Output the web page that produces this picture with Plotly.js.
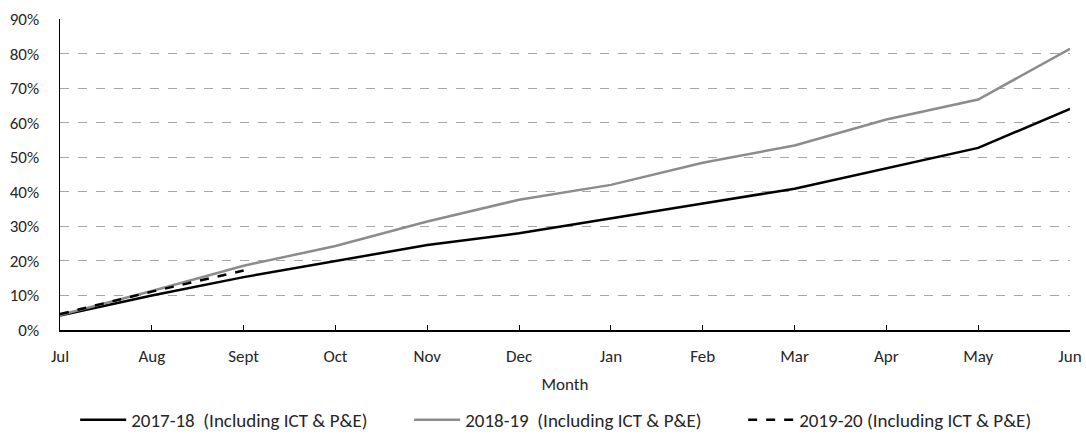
<!DOCTYPE html>
<html>
<head>
<meta charset="utf-8">
<script src="https://cdn.plot.ly/plotly-3.0.1.min.js"></script>
<style>html,body{margin:0;padding:0;background:#fff;}#chart{width:1086px;height:439px;}</style>
</head>
<body>
<div id="chart"></div>
<script>
const months = ["Jul","Aug","Sept","Oct","Nov","Dec","Jan","Feb","Mar","Apr","May","Jun"];
const fy1718 = [0.042,0.100,0.153,0.200,0.246,0.280,0.324,0.366,0.409,0.469,0.527,0.640];
const fy1819 = [0.043,0.113,0.186,0.243,0.314,0.377,0.420,0.484,0.534,0.609,0.667,0.814];
const fy1920 = [0.046,0.111,0.172];
const months1920 = months.slice(0, fy1920.length);
const names = ["2017-18\u00a0\u00a0(Including ICT & P&E)","2018-19\u00a0\u00a0(Including ICT & P&E)","2019-20 (Including ICT & P&E)"];

const font = {family: "Carlito, Lato, 'Liberation Sans', sans-serif", size: 17, color: "#262626"};
const legendFont = {family: "Carlito, Lato, 'Liberation Sans', sans-serif", size: 19, color: "#262626"};

const traces = [
  {x: months, y: fy1718, name: names[0], type: "scatter", mode: "lines", line: {color: "#000000", width: 2.5}},
  {x: months, y: fy1819, name: names[1], type: "scatter", mode: "lines", line: {color: "#8c8c8c", width: 2.5}},
  {x: months1920, y: fy1920, name: names[2], type: "scatter", mode: "lines", line: {color: "#000000", width: 2.5, dash: "dash"}}
];

const layout = {
  width: 1086, height: 439,
  margin: {l: 60, r: 16, t: 19, b: 109},
  paper_bgcolor: "#fff", plot_bgcolor: "#fff",
  font: font,
  showlegend: true,
  xaxis: {
    type: "category", categoryorder: "array", categoryarray: months,
    range: [0, months.length - 1],
    showline: true, linecolor: "#000", linewidth: 1.5,
    ticks: "inside", ticklen: 5, tickcolor: "#000",
    showgrid: false, zeroline: false, automargin: false,
    tickfont: font, ticklabelstandoff: 10,
    title: {text: "Month", font: font, standoff: 12}
  },
  yaxis: {
    range: [0, 0.9], dtick: 0.1, tick0: 0, tickformat: ".0%",
    showline: true, linecolor: "#000", linewidth: 1.5,
    ticks: "", automargin: false,
    showgrid: true, gridcolor: "#a6a6a6", griddash: "dash", gridwidth: 1,
    zeroline: false, ticklabelstandoff: 16,
    tickfont: font
  },
  legend: {
    orientation: "h", x: 0.015, xanchor: "left", yref: "container", y: 0.0, yanchor: "bottom",
    font: legendFont, entrywidth: 273, entrywidthmode: "pixels", itemwidth: 46
  }
};

Plotly.newPlot("chart", traces, layout, {displayModeBar: false, staticPlot: true});
</script>
</body>
</html>
